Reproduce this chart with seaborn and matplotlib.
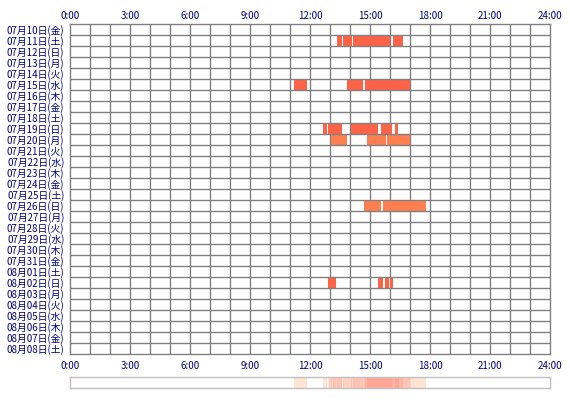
import numpy as np
import pandas as pd
import matplotlib
matplotlib.use("Agg")
import matplotlib.pyplot as plt
from matplotlib.colors import ListedColormap
import seaborn as sns

# ---------------- data ----------------
day_labels = [
    "07月10日(金)", "07月11日(土)", "07月12日(日)", "07月13日(月)", "07月14日(火)",
    "07月15日(水)", "07月16日(木)", "07月17日(金)", "07月18日(土)", "07月19日(日)",
    "07月20日(月)", "07月21日(火)", "07月22日(水)", "07月23日(木)", "07月24日(金)",
    "07月25日(土)", "07月26日(日)", "07月27日(月)", "07月28日(火)", "07月29日(水)",
    "07月30日(木)", "07月31日(金)", "08月01日(土)", "08月02日(日)", "08月03日(月)",
    "08月04日(火)", "08月05日(水)", "08月06日(木)", "08月07日(金)", "08月08日(土)",
]
hour_ticks = [0, 3, 6, 9, 12, 15, 18, 21, 24]
hour_labels = ["0:00", "3:00", "6:00", "9:00", "12:00", "15:00", "18:00", "21:00", "24:00"]

sess_day = ["07月11日(土)"] * 4 + ["07月15日(水)"] * 3 + ["07月19日(日)"] * 5 + \
           ["07月20日(月)"] * 3 + ["07月26日(日)"] * 2 + ["08月02日(日)"] * 5
sess_start = [13.35, 13.65, 14.15, 16.13,
              11.20, 13.85, 14.73,
              12.65, 12.90, 14.03, 15.53, 16.25,
              13.03, 14.85, 15.85,
              14.70, 15.65,
              12.92, 13.12, 15.40, 15.75, 15.98]
sess_end = [13.58, 14.08, 16.02, 16.63,
            11.85, 14.65, 17.02,
            12.83, 13.58, 15.38, 16.10, 16.42,
            13.83, 15.80, 17.00,
            15.55, 17.80,
            13.08, 13.30, 15.65, 15.95, 16.15]
sess_kind = ["a"] * 4 + ["a"] * 3 + ["a"] * 5 + ["b"] * 3 + ["b"] * 2 + ["a"] * 5

kind_colors = {"a": "#FF6347", "b": "#FF7F50"}
strip_colors = ["#FFFFFF", "#FFE3D4", "#FFD3C3", "#FFC4B3", "#FFB5A3", "#FFA794"]

df = pd.DataFrame({"day": sess_day, "start": sess_start, "end": sess_end, "kind": sess_kind})
df["row"] = df["day"].map({d: i for i, d in enumerate(day_labels)})

# ---------------- style ----------------
sns.set_style("white")
plt.rcParams["font.family"] = ["Noto Sans CJK JP", "DejaVu Sans"]

W, H = 570, 400
fig = plt.figure(figsize=(5.7, 4.0), dpi=100)
ax = fig.add_axes([70 / W, 1 - 354 / H, 480 / W, 330 / H])

grid_col = "#808080"
navy = "#000080"

n = len(day_labels)
ax.set_xlim(0, 24)
ax.set_ylim(n, 0)

# vertical grid
for h in range(1, 24):
    ax.axvline(h, color=grid_col, lw=1.0, zorder=1)

# bars
ax.barh(df["row"] + 0.5, df["end"] - df["start"], left=df["start"], height=1.0,
        color=[kind_colors[k] for k in df["kind"]], edgecolor="none", zorder=2)

# horizontal grid
for r in range(1, n):
    ax.axhline(r, color=grid_col, lw=1.0, zorder=3)

for s in ax.spines.values():
    s.set_color(grid_col)
    s.set_linewidth(1.0)
    s.set_zorder(4)

ax.set_xticks(hour_ticks)
ax.set_xticklabels(hour_labels)
ax.set_yticks(np.arange(n) + 0.5)
ax.set_yticklabels(day_labels)
ax.tick_params(axis="x", length=0, labelsize=7, labelcolor=navy, pad=5,
               top=False, labeltop=False, bottom=True, labelbottom=True)
ax.tick_params(axis="y", length=0, labelsize=7, labelcolor=navy, pad=4)
ax.set_xlabel("")
ax.set_ylabel("")

top = ax.secondary_xaxis("top")
top.set_xticks(hour_ticks)
top.set_xticklabels(hour_labels)
top.tick_params(length=0, labelsize=7, labelcolor=navy, pad=2)
top.spines["top"].set_visible(False)

# ---------------- summary strip ----------------
bins = np.arange(0, 24 * 60)
counts = np.zeros(len(bins), dtype=int)
for _, r in df.iterrows():
    counts[(bins >= r["start"] * 60) & (bins < r["end"] * 60)] += 1

ax2 = fig.add_axes([70 / W, 1 - 388 / H, 480 / W, 11 / H])
sns.heatmap(counts.reshape(1, -1), ax=ax2, cmap=ListedColormap(strip_colors),
            vmin=-0.5, vmax=len(strip_colors) - 0.5, cbar=False,
            xticklabels=False, yticklabels=False)
ax2.set_xlabel("")
ax2.set_ylabel("")
for s in ax2.spines.values():
    s.set_visible(True)
    s.set_color("#C0C0C0")
    s.set_linewidth(1.0)

fig.savefig("out.png", dpi=100, facecolor="white")
